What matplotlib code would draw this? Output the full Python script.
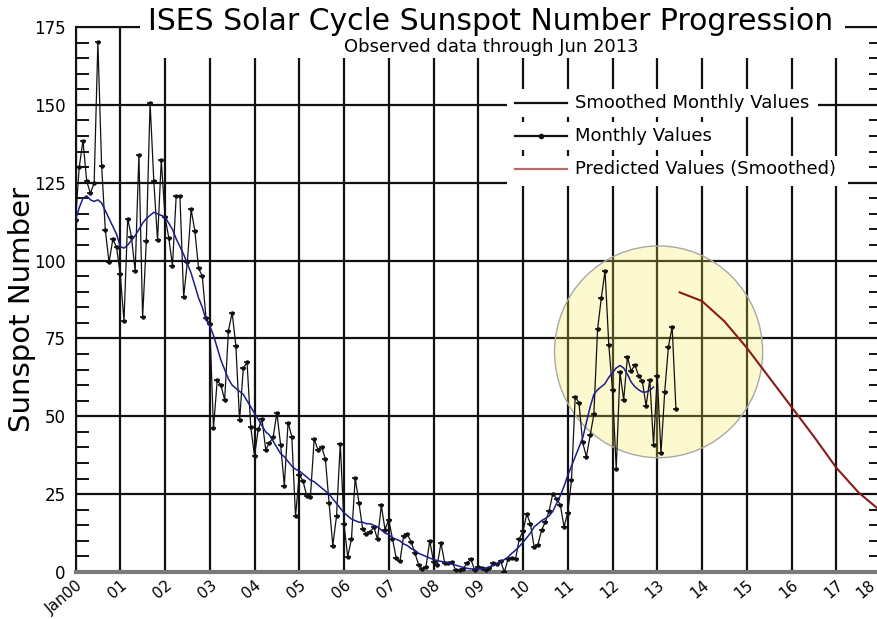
import numpy as np
import matplotlib
matplotlib.use('Agg')
import matplotlib.pyplot as plt
import matplotlib.transforms as mtransforms
from matplotlib.patches import Rectangle, Ellipse
from matplotlib.lines import Line2D

# monthly sunspot numbers, Jan 2000 .. Jun 2013
monthly = [
    113.0, 130.0, 138.5, 125.5, 121.6, 124.9, 170.1, 130.5, 109.7, 99.4, 106.8, 104.4,
    95.6, 80.6, 113.5, 107.7, 96.6, 134.0, 81.8, 106.4, 150.7, 125.5, 106.5, 132.2,
    114.1, 107.4, 98.4, 120.7, 120.8, 88.3, 99.6, 116.4, 109.6, 97.5, 95.0, 81.6,
    79.5, 46.2, 61.5, 60.0, 55.2, 77.4, 83.3, 72.7, 48.7, 65.5, 67.3, 46.5,
    37.3, 45.8, 49.1, 39.3, 41.5, 43.2, 51.1, 40.9, 27.7, 48.0, 43.5, 17.9,
    31.3, 29.2, 24.5, 24.2, 42.7, 39.3, 40.1, 36.4, 22.1, 8.5, 18.0, 41.2,
    15.3, 4.9, 10.6, 30.2, 22.3, 13.9, 12.2, 12.9, 14.4, 10.5, 21.4, 13.6,
    16.8, 10.7, 4.5, 3.4, 11.7, 12.1, 9.7, 6.0, 2.4, 0.9, 1.7, 10.1,
    3.3, 2.1, 9.3, 2.9, 2.9, 3.1, 0.5, 0.5, 1.1, 2.9, 4.1, 0.8,
    1.5, 1.4, 0.7, 1.2, 2.9, 2.6, 3.5, 0.0, 4.2, 4.6, 4.2, 10.6,
    13.1, 18.6, 15.4, 7.9, 8.8, 13.5, 16.1, 19.6, 25.2, 23.5, 21.6, 14.5,
    19.0, 29.4, 56.2, 54.4, 41.6, 37.0, 43.9, 50.6, 78.0, 88.0, 96.7, 73.0,
    58.3, 33.1, 64.2, 55.2, 69.0, 64.5, 66.5, 63.0, 61.4, 53.3, 61.8, 40.8,
    62.9, 38.1, 57.9, 72.4, 78.7, 52.5,
]

# smoothed monthly values, Jan 2000 .. Dec 2012
smoothed = [
    113.0, 117.0, 120.0, 120.8, 119.5, 119.0, 119.5, 118.5, 116.0, 113.5, 111.0, 108.5,
    104.5, 104.0, 105.0, 106.5, 108.0, 110.0, 112.0, 113.5, 114.5, 115.5, 115.0, 114.5,
    114.0, 112.0, 110.0, 107.0, 104.5, 102.0, 99.0, 96.0, 92.0, 88.0, 85.0, 81.0,
    79.0, 76.0, 72.0, 68.0, 65.0, 62.0, 60.0, 59.0, 58.0, 57.0, 55.0, 53.0,
    51.0, 49.0, 47.0, 45.0, 44.0, 42.0, 40.0, 38.0, 37.0, 35.5, 34.0, 33.0,
    32.5, 31.5, 30.5, 29.5, 29.0, 28.0, 27.0, 26.0, 25.0, 23.5, 22.0, 20.5,
    19.0, 18.0, 17.0, 16.5, 16.0, 16.0, 15.5, 15.5, 15.0, 14.5, 13.5, 12.5,
    12.0, 11.0, 10.5, 10.0, 9.0, 8.5, 7.5, 7.0, 6.0, 5.5, 5.0, 4.5,
    4.0, 3.7, 3.4, 3.2, 2.9, 2.5, 2.2, 1.8, 1.5, 1.2, 1.0, 1.0,
    1.0, 1.1, 1.3, 1.6, 2.0, 2.5, 3.2, 4.0, 4.8, 6.0, 7.0, 8.2,
    9.5, 11.0, 12.5, 14.5, 15.5, 16.5, 17.2, 18.0, 19.5, 22.0, 24.5, 27.5,
    31.0, 34.0, 37.0, 40.0, 43.0, 48.0, 53.0, 57.0, 58.5, 59.5, 60.5, 62.5,
    64.0, 65.5, 66.3, 65.5, 63.5, 61.0, 59.5, 58.5, 57.8, 57.8, 58.3, 59.4,
]

# predicted smoothed values (half-year steps)
pred_years = [2013.5, 2014.0, 2014.5, 2015.0, 2015.5, 2016.0, 2016.5, 2017.0, 2017.5, 2018.0]
pred_values = [89.8, 87.0, 80.5, 72.0, 62.5, 53.0, 43.5, 33.5, 25.5, 19.5]

year_labels = ['Jan00', '01', '02', '03', '04', '05', '06', '07', '08', '09',
               '10', '11', '12', '13', '14', '15', '16', '17', '18']

W, H = 877.0, 619.0


def px(x, y):
    # pixel position (from top-left) -> figure fraction
    return x / W, 1 - y / H


plt.rcParams['font.family'] = 'DejaVu Sans'
fig = plt.figure(figsize=(8.77, 6.19), dpi=100)
ax = fig.add_axes([75.5 / W, 47 / H, (881 - 75.5) / W, 545 / H])

t_month = 2000 + np.arange(len(monthly)) / 12.0
t_smooth = 2000 + np.arange(len(smoothed)) / 12.0

# highlight circle
ax.add_patch(Ellipse((2013.03, 70.7), 4.65, 68, facecolor='#f5eb50', alpha=0.27,
                     edgecolor='none', zorder=1.8))
ax.add_patch(Ellipse((2013.03, 70.7), 4.65, 68, facecolor='none',
                     edgecolor='#a8a8a8', lw=1.0, zorder=1.9))

ax.plot(t_month, monthly, color='#111111', lw=0.9, zorder=3)
ax.plot(t_month, monthly, ls='none', marker='_', ms=5, mew=1.2, color='#111111', zorder=3)
ax.plot(t_month, monthly, ls='none', marker='o', ms=2.2, color='#111111', zorder=3)
ax.plot(t_smooth, smoothed, color='#1c1c8c', lw=1.1, zorder=4)
ax.plot(pred_years, pred_values, color='#8b1a1a', lw=1.5, zorder=4)

ax.set_xlim(2000, 2018)
ax.set_ylim(0, 175)
ax.set_xticks(np.arange(2000, 2019))
ax.set_xticklabels(year_labels, rotation=40, ha='right', va='top',
                   rotation_mode='anchor', fontsize=11)
ax.set_yticks(np.arange(0, 176, 25))
ax.set_yticks(np.arange(0, 176, 5), minor=True)
ax.tick_params(which='major', length=0, labelsize=12)
ax.tick_params(axis='y', which='major', pad=7)
ax.tick_params(axis='x', which='major', pad=4, labelsize=11)
ax.tick_params(axis='y', which='minor', direction='in', length=9, width=1.3,
               left=True, right=True)
ax.grid(True, which='major', color='#111111', lw=1.6)

# last label sits right at the figure edge; nudge it inside
last = ax.get_xticklabels()[-1]
last.set_transform(last.get_transform() +
                   mtransforms.ScaledTranslation(-13 / 100, 0, fig.dpi_scale_trans))

for s in ['left', 'top']:
    ax.spines[s].set_color('#111111')
    ax.spines[s].set_linewidth(1.5)
ax.spines['bottom'].set_color('#7a7a7a')
ax.spines['bottom'].set_linewidth(3)
ax.spines['right'].set_visible(False)

fig.text(*px(22, 310), 'Sunspot Number', rotation=90, ha='center', va='center',
         fontsize=21)

# title block with white background over the frame
x0, y0 = px(140, 58)
fig.add_artist(Rectangle((x0, y0), 705 / W, 40 / H, transform=fig.transFigure,
                         facecolor='white', edgecolor='none', zorder=5))
fig.text(*px(491, 22), 'ISES Solar Cycle Sunspot Number Progression',
         ha='center', va='center', fontsize=21.5, zorder=6)
fig.text(*px(491, 47), 'Observed data through Jun 2013',
         ha='center', va='center', fontsize=13, zorder=6)

# legend rows
rows = [
    (103, 818, 'Smoothed Monthly Values', '#111111', False),
    (136, 713, 'Monthly Values', '#111111', True),
    (169, 848, 'Predicted Values (Smoothed)', '#b86a6a', False),
]
for yrow, xend, label, col, mark in rows:
    top = yrow - 14 if yrow != 169 else yrow - 13
    bot = yrow + 17 if yrow == 169 else yrow + 14
    bx, by = px(507, bot)
    fig.add_artist(Rectangle((bx, by), (xend - 507) / W, (bot - top) / H,
                             transform=fig.transFigure, facecolor='white',
                             edgecolor='none', zorder=5))
    lx0, ly = px(515, yrow)
    lx1, _ = px(567, yrow)
    fig.add_artist(Line2D([lx0, lx1], [ly, ly], transform=fig.transFigure,
                          color=col, lw=1.6, zorder=6))
    if mark:
        mx, _ = px(541, yrow)
        fig.add_artist(Line2D([mx], [ly], transform=fig.transFigure, color=col,
                              marker='o', ms=3, zorder=6))
    fig.text(*px(575, yrow), label, ha='left', va='center', fontsize=13, zorder=6)

fig.savefig('out.png', dpi=100)
